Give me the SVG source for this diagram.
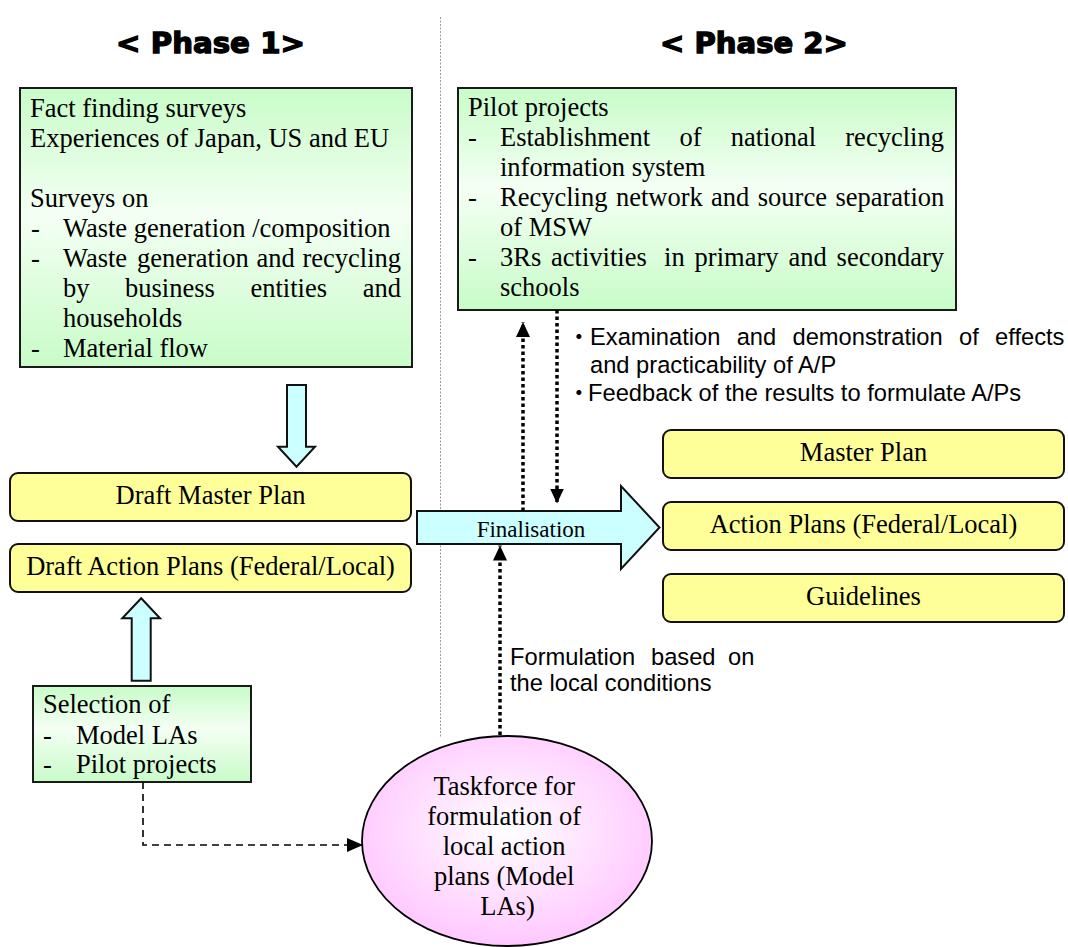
<svg xmlns="http://www.w3.org/2000/svg" width="1068" height="947" viewBox="0 0 1068 947">
  <defs>
    <linearGradient id="gGreen" x1="0" y1="0" x2="0" y2="1">
      <stop offset="0" stop-color="#c8fcc8"/>
      <stop offset="0.45" stop-color="#f4fff4"/>
      <stop offset="1" stop-color="#c8fcc8"/>
    </linearGradient>
    <radialGradient id="gPink" cx="0.5" cy="0.45" r="0.55">
      <stop offset="0" stop-color="#ffffff"/>
      <stop offset="1" stop-color="#ffc8ff"/>
    </radialGradient>
    <marker id="tri" viewBox="0 0 15 14" refX="15" refY="7" markerWidth="15" markerHeight="14" markerUnits="userSpaceOnUse" orient="auto">
      <path d="M0,0 L15,7 L0,14 z" fill="#000"/>
    </marker>
    <marker id="triS" viewBox="0 0 16 14" refX="16" refY="7" markerWidth="16" markerHeight="14" markerUnits="userSpaceOnUse" orient="auto">
      <path d="M0,0 L16,7 L0,14 z" fill="#000"/>
    </marker>
  </defs>
  <style>
    .title { font-family: "DejaVu Sans", "Liberation Sans", sans-serif; font-weight: bold; font-size: 27.5px; fill: #000; stroke: #000; stroke-width: 1.3; }
    .serif { font-family: "Liberation Serif", "Times New Roman", serif; font-size: 26.5px; fill: #000; }
    .mid { text-anchor: middle; }
    .sans { font-family: "Liberation Sans", Arial, "Noto Sans CJK JP", sans-serif; font-size: 23.7px; fill: #000; }
    .dot { font-family: "Noto Sans CJK JP", sans-serif; }
    .green { fill: url(#gGreen); stroke: #1a1a1a; stroke-width: 2; }
    .yellow { fill: #ffff99; stroke: #111; stroke-width: 2; }
    .block { fill: #ccffff; stroke: #111; stroke-width: 2; stroke-linejoin: miter; }
    .dotted { fill: none; stroke: #000; stroke-width: 3.5; stroke-dasharray: 3.5 3; }
    .dashed { fill: none; stroke: #000; stroke-width: 1.6; stroke-dasharray: 7 5; }
    .divider { stroke: #9a9a9a; stroke-width: 1; stroke-dasharray: 2 1.5; }
  </style>

  <rect width="1068" height="947" fill="#ffffff"/>

  <!-- phase separator -->
  <line class="divider" x1="440.5" y1="17" x2="440.5" y2="737"/>

  <!-- phase headings -->
  <text class="title" x="116" y="53" textLength="189" lengthAdjust="spacingAndGlyphs">&lt; Phase 1&gt;</text>
  <text class="title" x="660" y="53" textLength="188" lengthAdjust="spacingAndGlyphs">&lt; Phase 2&gt;</text>

  <!-- block arrows (Phase 1 flow) -->
  <g id="block-arrows">
    <polygon class="block" points="287,385 306,385 306,446.7 315,446.7 296.5,466.7 278,446.7 287,446.7"/>
    <polygon class="block" points="141.2,598.3 160,618.3 150.7,618.3 150.7,680.7 131.7,680.7 131.7,618.3 122.3,618.3"/>
  </g>

  <g id="fact-finding">
    <rect class="green" x="20" y="88" width="392" height="279"/>
    <text class="serif">
      <tspan x="30" y="117">Fact finding surveys</tspan>
      <tspan x="30" y="147">Experiences of Japan, US and EU</tspan>
      <tspan x="30" y="207">Surveys on</tspan>
      <tspan x="31" y="237">-</tspan><tspan x="63" y="237">Waste generation /composition</tspan>
      <tspan x="31" y="267">-</tspan><tspan x="63" y="267">Waste</tspan><tspan x="137" y="267">generation</tspan><tspan x="256.5" y="267">and</tspan><tspan x="302.5" y="267">recycling</tspan>
      <tspan x="63" y="297">by</tspan><tspan x="125" y="297">business</tspan><tspan x="250.5" y="297">entities</tspan><tspan x="362.7" y="297">and</tspan>
      <tspan x="63" y="327">households</tspan>
      <tspan x="31" y="357">-</tspan><tspan x="63" y="357">Material flow</tspan>
    </text>
  </g>

  <g id="pilot-projects">
    <rect class="green" x="458" y="88" width="498" height="222"/>
    <text class="serif">
      <tspan x="468" y="116">Pilot projects</tspan>
      <tspan x="468" y="146">-</tspan><tspan x="500" y="146">Establishment</tspan><tspan x="679.4" y="146">of</tspan><tspan x="730.7" y="146">national</tspan><tspan x="845.3" y="146">recycling</tspan>
      <tspan x="500" y="176">information system</tspan>
      <tspan x="468" y="206">-</tspan><tspan x="500" y="206">Recycling</tspan><tspan x="615.9" y="206">network</tspan><tspan x="711.1" y="206">and</tspan><tspan x="757.8" y="206">source</tspan><tspan x="835.4" y="206">separation</tspan>
      <tspan x="500" y="236">of MSW</tspan>
      <tspan x="468" y="266">-</tspan><tspan x="500" y="266">3Rs</tspan><tspan x="551.1" y="266">activities</tspan><tspan x="664.1" y="266">in</tspan><tspan x="694.6" y="266">primary</tspan><tspan x="788.4" y="266">and</tspan><tspan x="836.6" y="266">secondary</tspan>
      <tspan x="500" y="296">schools</tspan>
    </text>
  </g>

  <g id="draft-master-plan">
    <rect class="yellow" x="10" y="473" width="401" height="48" rx="8"/>
    <text class="serif mid" x="210.5" y="503.5">Draft Master Plan</text>
  </g>

  <g id="draft-action-plans">
    <rect class="yellow" x="10" y="544" width="401" height="48" rx="8"/>
    <text class="serif mid" x="210.5" y="574.5">Draft Action Plans (Federal/Local)</text>
  </g>

  <g id="selection">
    <rect class="green" x="33" y="686" width="218" height="96"/>
    <text class="serif">
      <tspan x="43" y="713">Selection of</tspan>
      <tspan x="43" y="743.5">-</tspan><tspan x="76" y="743.5">Model LAs</tspan>
      <tspan x="43" y="773">-</tspan><tspan x="76" y="773">Pilot projects</tspan>
    </text>
  </g>

  <g id="finalisation">
    <polygon class="block" points="417,511 621,511 621,486 659.5,527.5 621,569 621,544 417,544"/>
    <text class="serif mid" x="531" y="537" style="font-size:23px">Finalisation</text>
  </g>

  <g id="master-plan">
    <rect class="yellow" x="663" y="430" width="401" height="48" rx="8"/>
    <text class="serif mid" x="863.5" y="460.5">Master Plan</text>
  </g>

  <g id="action-plans">
    <rect class="yellow" x="663" y="502" width="401" height="48" rx="8"/>
    <text class="serif mid" x="863.5" y="532.5">Action Plans (Federal/Local)</text>
  </g>

  <g id="guidelines">
    <rect class="yellow" x="663" y="574" width="401" height="48" rx="8"/>
    <text class="serif mid" x="863.5" y="604.5">Guidelines</text>
  </g>

  <g id="taskforce">
    <ellipse cx="507" cy="841" rx="145" ry="105" fill="url(#gPink)" stroke="#000" stroke-width="1.8"/>
    <text class="serif mid">
      <tspan x="507.5" y="795">Taskforce for</tspan>
      <tspan x="507.5" y="825">formulation of</tspan>
      <tspan x="507.5" y="855">local action</tspan>
      <tspan x="507.5" y="885">plans (Model</tspan>
      <tspan x="507.5" y="915">LAs)</tspan>
    </text>
  </g>

  <!-- connectors -->
  <g id="connectors">
    <path class="dotted" d="M523,511 V322" marker-end="url(#tri)"/>
    <path class="dotted" d="M557,310 V503.5" marker-end="url(#tri)"/>
    <path class="dotted" d="M500,735 V545.5" marker-end="url(#tri)"/>
    <path class="dashed" d="M143,782 V845 H363" marker-end="url(#triS)"/>
  </g>

  <!-- connector notes -->
  <g id="notes">
    <text class="sans">
      <tspan class="dot" x="567" y="345">・</tspan><tspan x="590" y="345">Examination</tspan><tspan x="736.7" y="345">and</tspan><tspan x="792.5" y="345">demonstration</tspan><tspan x="959" y="345">of</tspan><tspan x="995.1" y="345">effects</tspan>
      <tspan x="590" y="373">and practicability of A/P</tspan>
      <tspan class="dot" x="567" y="401">・</tspan><tspan x="588" y="401">Feedback of the results to formulate A/Ps</tspan>
    </text>
    <text class="sans">
      <tspan x="510" y="664.5">Formulation</tspan><tspan x="651" y="664.5">based</tspan><tspan x="728" y="664.5">on</tspan>
      <tspan x="510" y="691">the local conditions</tspan>
    </text>
  </g>
</svg>
